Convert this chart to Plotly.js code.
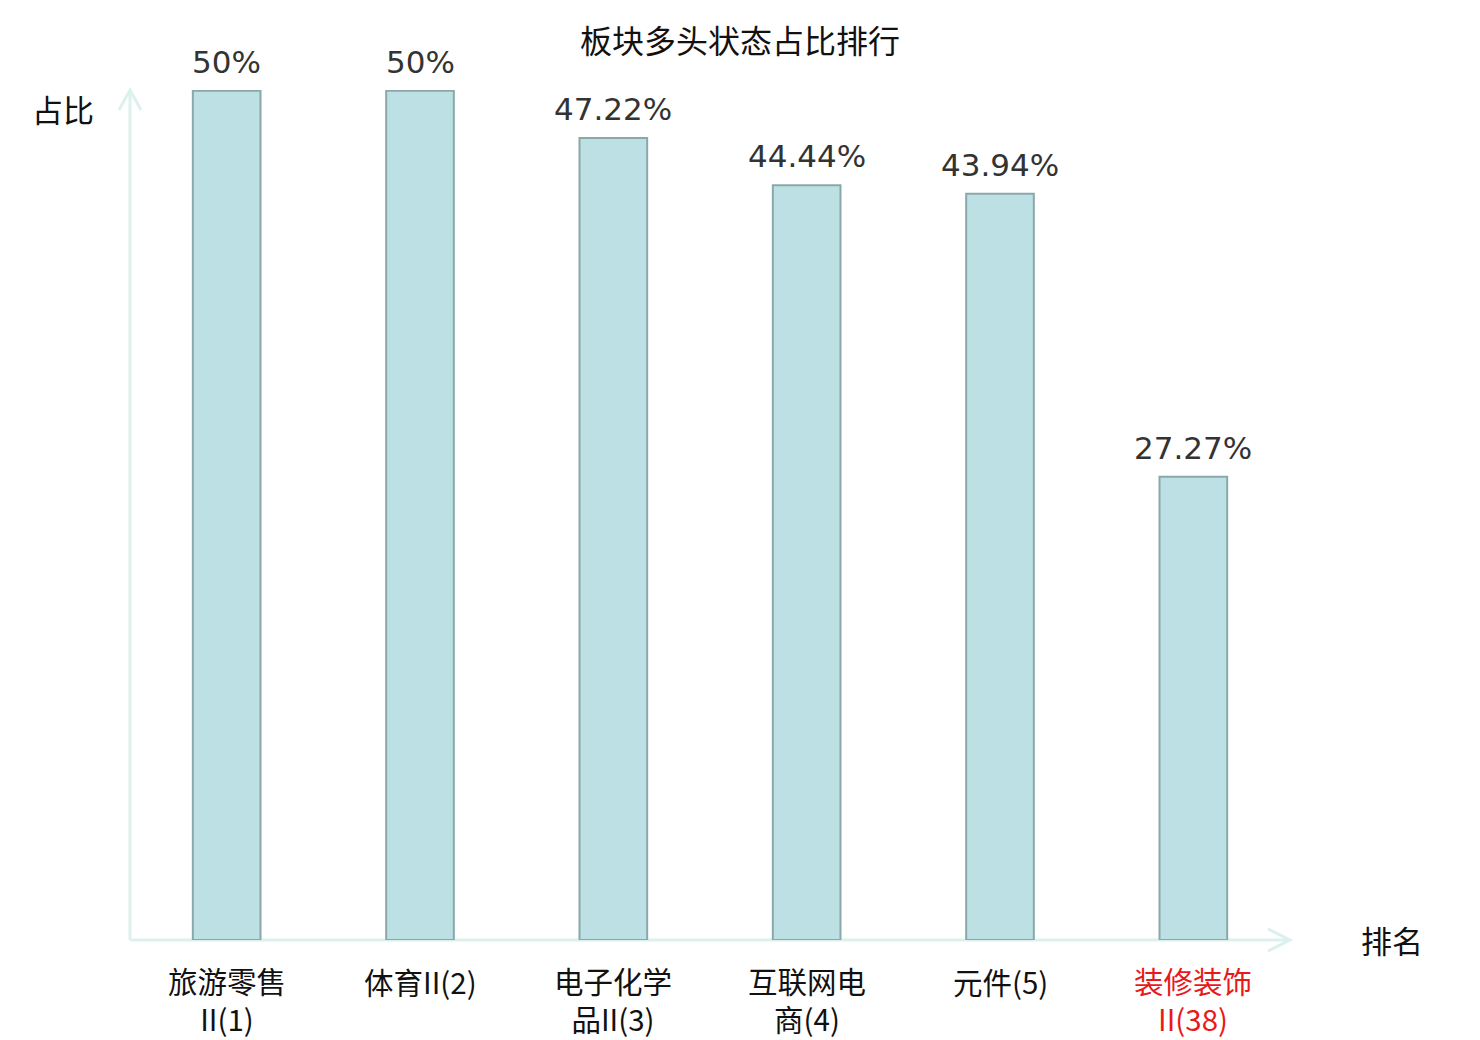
<!DOCTYPE html>
<html>
<head>
<meta charset="utf-8">
<script src="https://cdn.plot.ly/plotly-3.0.1.min.js"></script>
<style>html,body{margin:0;padding:0;background:#fff;}#chart{width:1480px;height:1040px;}</style>
</head>
<body>
<div id="chart"></div>
<script>
// ---- data ----
const categories = ["旅游零售II(1)", "体育II(2)", "电子化学品II(3)", "互联网电商(4)", "元件(5)", "装修装饰II(38)"];
const labelLine1 = ["旅游零售", "体育II(2)", "电子化学", "互联网电", "元件(5)", "装修装饰"];
const labelLine2 = ["II(1)", "", "品II(3)", "商(4)", "", "II(38)"];
const highlighted = [false, false, false, false, false, true];
const shares = [50, 50, 47.22, 44.44, 43.94, 27.27];
const chartTitle = "板块多头状态占比排行";
const yLabel = "占比";
const xLabel = "排名";

const cjk = '"Noto Sans CJK SC", "Noto Sans", sans-serif';
const axisColor = '#dcf1ee';

const annotations = [];
categories.forEach((c, i) => {
  const col = highlighted[i] ? '#e8191a' : '#111111';
  const two = !!labelLine2[i];
  annotations.push({x: c, xref: 'x', y: two ? -0.0694 : -0.0482, yref: 'paper',
    text: two ? labelLine1[i] + '<br>' + labelLine2[i] : labelLine1[i], showarrow: false,
    xanchor: 'center', yanchor: 'middle', align: 'center', font: {family: cjk, size: 29.5, color: col}});
  annotations.push({x: c, xref: 'x', y: shares[i], yref: 'y', text: String(shares[i]) + '%', showarrow: false,
    xanchor: 'center', yanchor: 'bottom', yshift: 9, font: {family: '"DejaVu Sans", sans-serif', size: 31, color: '#333333'}});
});
annotations.push({x: -0.0578, xref: 'paper', y: 0.978, yref: 'paper', text: yLabel, showarrow: false,
  xanchor: 'center', yanchor: 'middle', font: {family: cjk, size: 31, color: '#111111'}});
annotations.push({x: 1.088, xref: 'paper', y: 0.001, yref: 'paper', text: xLabel, showarrow: false,
  xanchor: 'center', yanchor: 'middle', font: {family: cjk, size: 31, color: '#111111'}});

const shapes = [
  {type: 'line', xref: 'paper', yref: 'paper', x0: 0, x1: 1, y0: 0, y1: 0, layer: 'below', line: {color: axisColor, width: 3}},
  {type: 'line', xref: 'paper', yref: 'paper', x0: 0, x1: 0, y0: 0, y1: 1, layer: 'below', line: {color: axisColor, width: 3}},
  {type: 'path', xref: 'paper', yref: 'paper', xsizemode: 'pixel', ysizemode: 'pixel', xanchor: 1, yanchor: 0,
    path: 'M -22,11 L 0,0 L -22,-11', layer: 'below', line: {color: axisColor, width: 3}},
  {type: 'path', xref: 'paper', yref: 'paper', xsizemode: 'pixel', ysizemode: 'pixel', xanchor: 0, yanchor: 1,
    path: 'M -11,-20 L 0,0 L 11,-20', layer: 'below', line: {color: axisColor, width: 3}}
];

const trace = {
  type: 'bar', x: categories, y: shares,
  marker: {color: '#bce0e3', line: {color: '#8aa8aa', width: 2}},
  hoverinfo: 'none'
};

const layout = {
  width: 1480, height: 1040,
  margin: {l: 130, r: 190, t: 90, b: 100},
  paper_bgcolor: '#ffffff', plot_bgcolor: '#ffffff',
  bargap: 0.65,
  showlegend: false,
  title: {text: chartTitle, x: 0.5, xref: 'container', xanchor: 'center', y: 1 - 42/1040, yref: 'container', yanchor: 'middle',
    font: {family: cjk, size: 32, color: '#111111'}},
  xaxis: {showticklabels: false, showgrid: false, zeroline: false, showline: false, ticks: '', fixedrange: true},
  yaxis: {range: [0, 50.05], showticklabels: false, showgrid: false, zeroline: false, showline: false, ticks: '', fixedrange: true},
  annotations: annotations,
  shapes: shapes
};

Plotly.newPlot('chart', [trace], layout, {displayModeBar: false, staticPlot: true});
</script>
</body>
</html>
